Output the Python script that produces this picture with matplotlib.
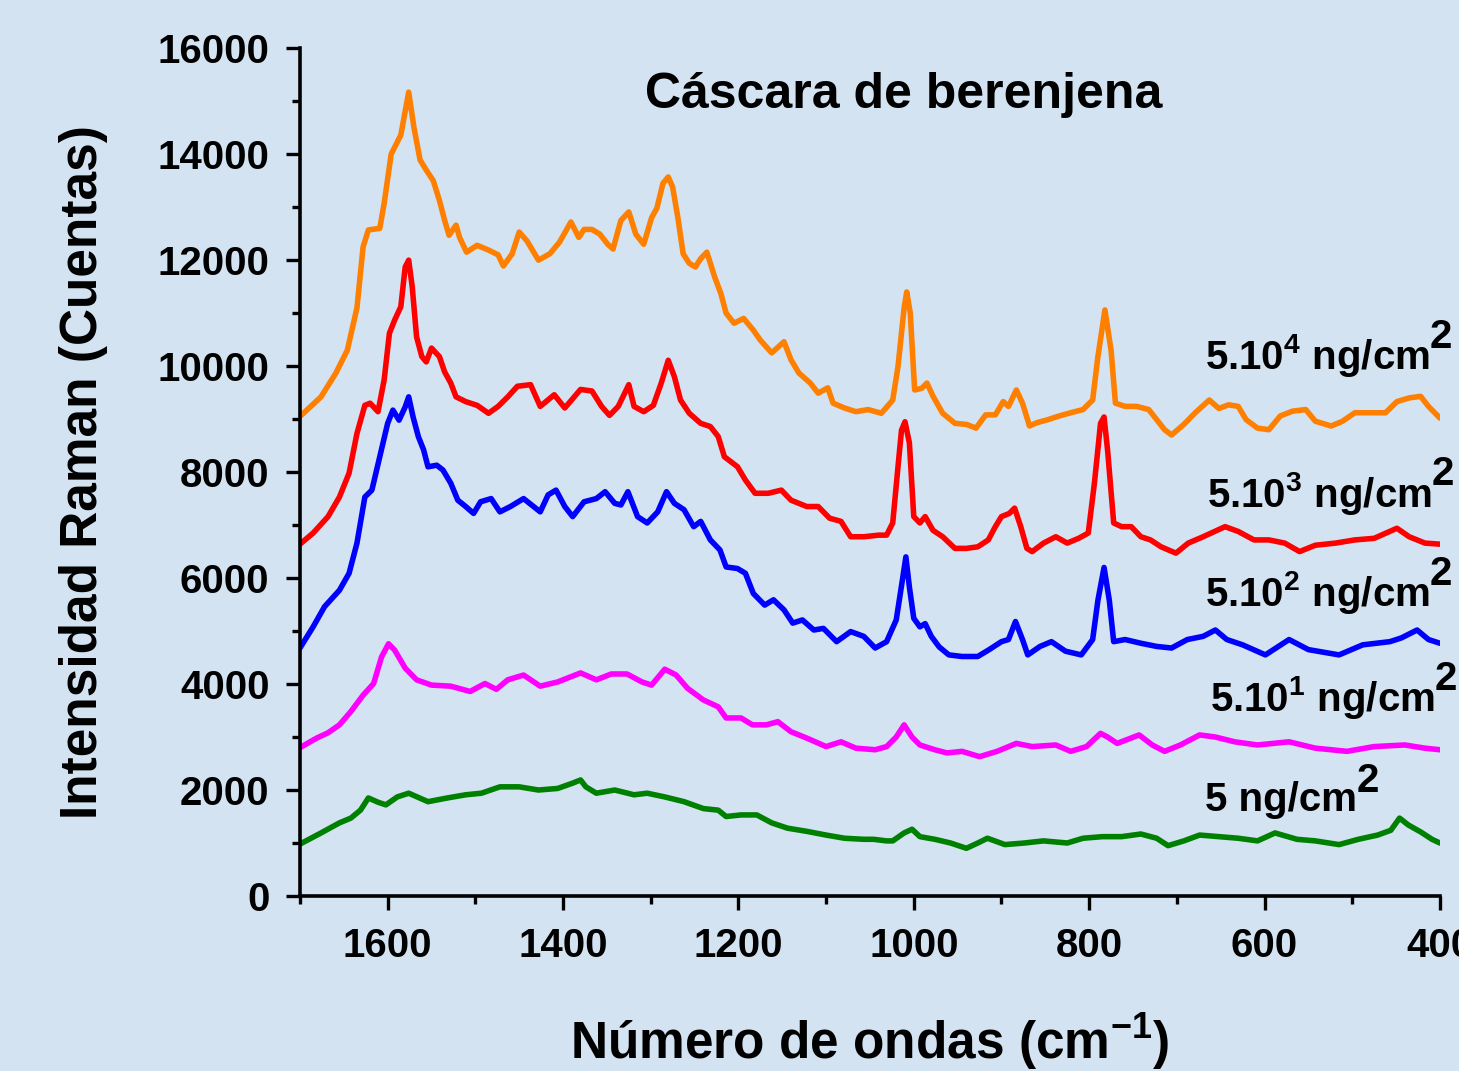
import matplotlib
matplotlib.use("Agg")
import matplotlib.pyplot as plt
from matplotlib.ticker import MultipleLocator

plt.rcParams["font.family"] = ["Liberation Sans", "DejaVu Sans"]
plt.rcParams["font.weight"] = "bold"
plt.rcParams["mathtext.fontset"] = "custom"
plt.rcParams["mathtext.rm"] = "Liberation Sans:bold"
plt.rcParams["mathtext.bf"] = "Liberation Sans:bold"
plt.rcParams["mathtext.it"] = "Liberation Sans:bold"

# %% espectros Raman (numero de onda, intensidad)
wn_5e4 = [1700, 1676, 1659, 1646, 1635, 1628, 1622, 1609, 1604, 1596, 1585, 1576, 1570, 1563,
          1556, 1548, 1541, 1535, 1530, 1522, 1518, 1510, 1498, 1485, 1474, 1468, 1458, 1450,
          1441, 1428, 1415, 1404, 1391, 1382, 1376, 1367, 1358, 1349, 1343, 1334, 1325, 1317,
          1308, 1299, 1293, 1286, 1280, 1275, 1269, 1263, 1256, 1249, 1243, 1236, 1227, 1220,
          1214, 1205, 1194, 1183, 1175, 1162, 1148, 1140, 1131, 1118, 1109, 1098, 1092, 1079,
          1066, 1052, 1037, 1024, 1018, 1011, 1008, 1004, 999, 991, 985, 978, 967, 953, 940,
          929, 918, 907, 898, 892, 883, 876, 868, 860, 847, 834, 821, 807, 796, 790, 782, 775,
          770, 759, 746, 732, 723, 714, 706, 692, 679, 663, 652, 641, 630, 621, 608, 595, 582,
          568, 553, 542, 524, 511, 497, 480, 462, 449, 435, 422, 413, 400]
int_5e4 = [9050, 9420, 9870, 10300, 11100, 12250, 12570, 12600, 13070, 14000, 14360, 15170, 14500,
           13890, 13700, 13500, 13130, 12750, 12470, 12660, 12430, 12150, 12280, 12190, 12100,
           11890, 12120, 12530, 12360, 12000, 12120, 12340, 12720, 12430, 12580, 12580, 12490,
           12300, 12210, 12750, 12910, 12490, 12300, 12800, 12980, 13450, 13570, 13380, 12800,
           12120, 11940, 11870, 12030, 12150, 11680, 11370, 11000, 10810, 10900, 10680, 10490,
           10250, 10460, 10120, 9870, 9680, 9490, 9590, 9300, 9210, 9140, 9180, 9110, 9360, 9990,
           11100, 11400, 11000, 9550, 9580, 9680, 9430, 9110, 8920, 8900, 8830, 9080, 9080, 9330,
           9240, 9550, 9300, 8870, 8930, 8990, 9060, 9120, 9180, 9360, 10180, 11060, 10300, 9300,
           9240, 9240, 9180, 8990, 8800, 8700, 8900, 9120, 9360, 9200, 9270, 9240, 8990, 8830,
           8800, 9060, 9150, 9180, 8960, 8870, 8960, 9120, 9120, 9120, 9330, 9400, 9430, 9240,
           9020]

wn_5e3 = [1700, 1685, 1668, 1655, 1644, 1635, 1626, 1620, 1611, 1604, 1598, 1592, 1585, 1580,
          1576, 1572, 1567, 1561, 1556, 1550, 1541, 1535, 1528, 1522, 1511, 1498, 1485, 1474,
          1463, 1452, 1437, 1426, 1410, 1398, 1380, 1367, 1356, 1347, 1337, 1325, 1319, 1308,
          1297, 1288, 1280, 1273, 1266, 1256, 1243, 1232, 1223, 1216, 1201, 1192, 1181, 1166,
          1151, 1140, 1122, 1109, 1096, 1083, 1072, 1057, 1040, 1031, 1024, 1018, 1014, 1010,
          1005, 1000, 993, 987, 978, 967, 953, 940, 927, 915, 907, 900, 891, 885, 878, 871, 865,
          852, 838, 825, 812, 801, 794, 787, 783, 779, 772, 763, 752, 741, 730, 718, 701, 687,
          670, 645, 630, 612, 595, 577, 560, 542, 519, 497, 475, 449, 435, 417, 400]
int_5e3 = [6640, 6850, 7160, 7530, 7980, 8730, 9260, 9300, 9140, 9740, 10620, 10870, 11120, 11870,
           12000, 11500, 10550, 10180, 10080, 10340, 10180, 9890, 9680, 9420, 9330, 9260, 9110,
           9240, 9420, 9620, 9650, 9240, 9460, 9210, 9560, 9530, 9240, 9070, 9240, 9650, 9240,
           9140, 9260, 9680, 10110, 9800, 9360, 9110, 8920, 8860, 8670, 8290, 8100, 7850, 7600,
           7600, 7660, 7470, 7350, 7350, 7130, 7070, 6780, 6780, 6810, 6810, 7040, 8100, 8790,
           8950, 8550, 7160, 7040, 7160, 6900, 6780, 6560, 6560, 6590, 6720, 6970, 7160, 7220,
           7320, 6970, 6560, 6500, 6660, 6780, 6660, 6750, 6850, 7790, 8920, 9040, 8420, 7040,
           6970, 6970, 6780, 6720, 6590, 6470, 6660, 6780, 6970, 6880, 6720, 6720, 6660, 6500,
           6620, 6660, 6720, 6750, 6940, 6780, 6660, 6640]

wn_5e2 = [1700, 1685, 1672, 1655, 1644, 1635, 1626, 1618, 1609, 1600, 1594, 1587, 1580, 1576,
          1571, 1565, 1559, 1554, 1544, 1537, 1528, 1520, 1511, 1502, 1494, 1482, 1472, 1460,
          1445, 1426, 1417, 1408, 1398, 1389, 1376, 1362, 1352, 1341, 1334, 1326, 1315, 1304,
          1292, 1282, 1273, 1262, 1251, 1243, 1232, 1221, 1214, 1201, 1192, 1183, 1170, 1160,
          1148, 1138, 1127, 1114, 1103, 1088, 1072, 1057, 1044, 1031, 1020, 1013, 1009, 1005,
          1000, 993, 987, 980, 971, 960, 945, 927, 914, 900, 892, 884, 876, 870, 856, 843, 827,
          809, 796, 790, 783, 777, 772, 759, 741, 723, 706, 688, 670, 656, 643, 625, 599, 572,
          550, 515, 488, 457, 444, 426, 413, 400]
int_5e2 = [4680, 5080, 5460, 5770, 6090, 6660, 7530, 7660, 8290, 8920, 9170, 8980, 9230, 9420,
           9040, 8670, 8420, 8100, 8130, 8040, 7790, 7470, 7350, 7220, 7440, 7500, 7250, 7350,
           7500, 7250, 7570, 7660, 7350, 7160, 7440, 7500, 7630, 7410, 7380, 7630, 7160, 7040,
           7250, 7630, 7410, 7290, 6970, 7070, 6720, 6530, 6210, 6180, 6090, 5710, 5490, 5590,
           5400, 5150, 5210, 5020, 5050, 4800, 4990, 4900, 4680, 4800, 5210, 5960, 6400, 5830,
           5240, 5080, 5140, 4900, 4700, 4550, 4520, 4520, 4650, 4800, 4840, 5180, 4840, 4550,
           4710, 4800, 4620, 4550, 4840, 5580, 6200, 5580, 4800, 4840, 4770, 4710, 4680, 4840,
           4900, 5020, 4840, 4740, 4550, 4840, 4650, 4550, 4740, 4800, 4870, 5020, 4840, 4770]

wn_5e1 = [1700, 1681, 1668, 1655, 1642, 1628, 1616, 1607, 1599, 1592, 1580, 1567, 1550, 1528,
          1506, 1489, 1476, 1463, 1445, 1426, 1406, 1380, 1362, 1345, 1327, 1310, 1299, 1284,
          1271, 1258, 1240, 1223, 1214, 1197, 1184, 1168, 1155, 1140, 1122, 1100, 1083, 1066,
          1044, 1031, 1020, 1011, 1002, 993, 976, 962, 945, 925, 905, 883, 865, 838, 821, 803,
          787, 779, 768, 743, 728, 714, 696, 674, 656, 634, 608, 572, 542, 506, 475, 440, 417,
          400]
int_5e1 = [2800, 2980, 3080, 3230, 3480, 3790, 4010, 4510, 4760, 4640, 4300, 4080, 3980, 3960,
           3860, 4010, 3900, 4080, 4170, 3960, 4040, 4210, 4080, 4190, 4190, 4040, 3980, 4280,
           4170, 3920, 3700, 3570, 3360, 3360, 3230, 3230, 3290, 3100, 2980, 2820, 2910, 2790,
           2760, 2820, 3000, 3230, 3000, 2850, 2760, 2700, 2730, 2630, 2730, 2880, 2820, 2850,
           2730, 2820, 3070, 3000, 2880, 3040, 2850, 2730, 2850, 3040, 3000, 2910, 2850, 2910,
           2790, 2730, 2820, 2850, 2790, 2760]

wn_5 = [1700, 1676, 1655, 1642, 1631, 1622, 1611, 1602, 1589, 1576, 1554, 1532, 1511, 1493, 1472,
        1450, 1428, 1406, 1389, 1380, 1374, 1362, 1341, 1319, 1304, 1284, 1262, 1240, 1223, 1214,
        1197, 1179, 1162, 1144, 1122, 1100, 1079, 1057, 1046, 1031, 1024, 1011, 1002, 993, 976,
        958, 940, 927, 916, 896, 874, 852, 825, 807, 785, 763, 741, 723, 710, 692, 674, 652, 630,
        608, 588, 563, 542, 515, 493, 471, 456, 446, 436, 422, 409, 400]
int_5 = [980, 1190, 1380, 1470, 1620, 1850, 1770, 1720, 1870, 1940, 1780, 1850, 1910, 1940, 2060,
         2060, 2000, 2030, 2130, 2190, 2060, 1940, 2000, 1910, 1940, 1870, 1780, 1650, 1620, 1500,
         1530, 1530, 1380, 1280, 1220, 1150, 1090, 1070, 1070, 1040, 1040, 1190, 1260, 1120, 1070,
         1000, 900, 1000, 1090, 970, 1000, 1040, 1000, 1090, 1120, 1120, 1170, 1090, 950, 1040,
         1150, 1120, 1090, 1040, 1190, 1070, 1040, 970, 1070, 1150, 1240, 1470, 1340, 1210, 1070,
         1000]

# etiquetas a la derecha: texto, posicion (numero de onda, intensidad)
series = [
    (wn_5e4, int_5e4, "#ff7f00", r"5.10$^{4}$ ng/cm", 668, 10200),
    (wn_5e3, int_5e3, "#ff0000", r"5.10$^{3}$ ng/cm", 666, 7600),
    (wn_5e2, int_5e2, "#0000ff", r"5.10$^{2}$ ng/cm", 668, 5720),
    (wn_5e1, int_5e1, "#ff00ff", r"5.10$^{1}$ ng/cm", 662, 3740),
    (wn_5, int_5, "#008000", r"5 ng/cm", 668, 1810),
]

# %%
bg = "#d3e3f1"
fig = plt.figure(figsize=(14.59, 10.71), dpi=100, facecolor=bg)
ax = fig.add_axes([0.2056, 0.1634, 0.7813, 0.7916], facecolor=bg)

for wn, inten, col, lab, lx, ly in series:
    ax.plot(wn, inten, color=col, lw=4, solid_joinstyle="round", solid_capstyle="round")
    t = ax.text(lx, ly, lab, fontsize=29, fontweight="bold", va="center", ha="left",
                clip_on=False)
    # exponente "2" grande, pegado al final de la etiqueta
    ax.annotate("2", xy=(1.0, 0.5), xycoords=t, fontsize=29, fontweight="bold",
                va="bottom", ha="left", annotation_clip=False)

ax.set_xlim(1700, 400)
ax.set_ylim(0, 16000)
ax.xaxis.set_major_locator(MultipleLocator(200))
ax.xaxis.set_minor_locator(MultipleLocator(100))
ax.yaxis.set_major_locator(MultipleLocator(2000))
ax.yaxis.set_minor_locator(MultipleLocator(1000))

for s in ["top", "right"]:
    ax.spines[s].set_visible(False)
for s in ["left", "bottom"]:
    ax.spines[s].set_linewidth(2.6)

ax.tick_params(which="major", length=10, width=2.4, direction="out", labelsize=29, pad=12)
ax.tick_params(which="minor", length=6, width=2.4, direction="out")
for t in ax.get_xticklabels() + ax.get_yticklabels():
    t.set_fontweight("bold")

ax.set_xlabel(r"Número de ondas (cm$^{\mathbf{-1}}$)", fontsize=37, fontweight="bold", labelpad=34)
ax.set_ylabel("Intensidad Raman (Cuentas)", fontsize=37, fontweight="bold", labelpad=36)
ax.text(0.53, 0.945, "Cáscara de berenjena", transform=ax.transAxes, fontsize=36,
        fontweight="bold", ha="center", va="center")

fig.savefig("out.png", dpi=100, facecolor=bg)
